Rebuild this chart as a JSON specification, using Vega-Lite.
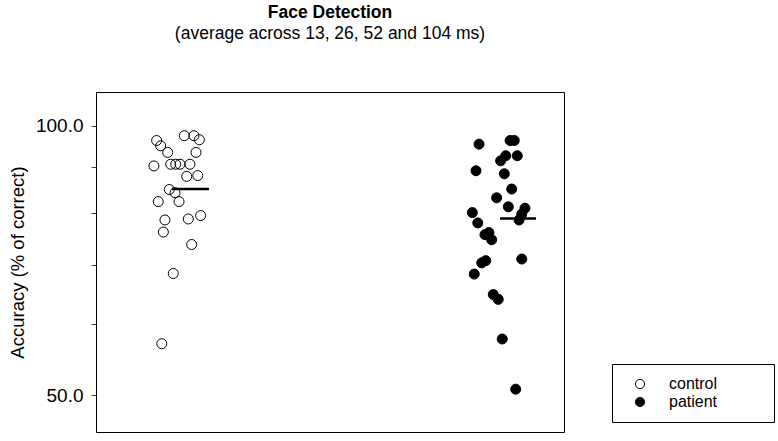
{
  "$schema": "https://vega.github.io/schema/vega-lite/v6.json",
  "width": 468,
  "height": 340,
  "autosize": {"type": "none"},
  "padding": {"left": 96, "top": 92, "right": 214, "bottom": 9},
  "background": "white",
  "config": {"view": {"stroke": "black", "strokeWidth": 1}, "font": "Liberation Sans"},
  "title": {
    "text": "Face Detection",
    "subtitle": "(average across 13, 26, 52 and 104 ms)",
    "anchor": "middle",
    "frame": "group",
    "font": "Liberation Sans",
    "subtitleFont": "Liberation Sans",
    "fontSize": 17.5,
    "fontWeight": "bold",
    "color": "black",
    "subtitleFontSize": 17.5,
    "subtitleColor": "black",
    "subtitlePadding": 3.5,
    "offset": 50
  },
  "datasets": {
    "points": [
      {"group": "control", "pos": 0.867, "accuracy": 96.3},
      {"group": "control", "pos": 0.892, "accuracy": 95.0},
      {"group": "control", "pos": 0.936, "accuracy": 93.4},
      {"group": "control", "pos": 1.040, "accuracy": 97.5},
      {"group": "control", "pos": 1.100, "accuracy": 97.5},
      {"group": "control", "pos": 1.134, "accuracy": 96.5},
      {"group": "control", "pos": 1.113, "accuracy": 93.4},
      {"group": "control", "pos": 0.850, "accuracy": 90.2},
      {"group": "control", "pos": 0.955, "accuracy": 90.6},
      {"group": "control", "pos": 0.986, "accuracy": 90.6},
      {"group": "control", "pos": 1.013, "accuracy": 90.6},
      {"group": "control", "pos": 1.075, "accuracy": 90.6},
      {"group": "control", "pos": 1.055, "accuracy": 87.8},
      {"group": "control", "pos": 1.124, "accuracy": 88.0},
      {"group": "control", "pos": 0.946, "accuracy": 84.9},
      {"group": "control", "pos": 0.982, "accuracy": 84.2},
      {"group": "control", "pos": 0.877, "accuracy": 82.3},
      {"group": "control", "pos": 1.007, "accuracy": 82.3},
      {"group": "control", "pos": 0.919, "accuracy": 78.5},
      {"group": "control", "pos": 1.065, "accuracy": 78.7},
      {"group": "control", "pos": 1.142, "accuracy": 79.4},
      {"group": "control", "pos": 0.909, "accuracy": 76.1},
      {"group": "control", "pos": 1.086, "accuracy": 73.7},
      {"group": "control", "pos": 0.971, "accuracy": 68.4},
      {"group": "control", "pos": 0.899, "accuracy": 57.1},
      {"group": "patient", "pos": 2.882, "accuracy": 95.4},
      {"group": "patient", "pos": 3.076, "accuracy": 96.3},
      {"group": "patient", "pos": 3.102, "accuracy": 96.3},
      {"group": "patient", "pos": 3.049, "accuracy": 92.6},
      {"group": "patient", "pos": 3.017, "accuracy": 91.4},
      {"group": "patient", "pos": 3.121, "accuracy": 92.6},
      {"group": "patient", "pos": 2.863, "accuracy": 89.1},
      {"group": "patient", "pos": 3.040, "accuracy": 88.4},
      {"group": "patient", "pos": 3.086, "accuracy": 85.0},
      {"group": "patient", "pos": 2.992, "accuracy": 83.1},
      {"group": "patient", "pos": 3.065, "accuracy": 81.2},
      {"group": "patient", "pos": 3.169, "accuracy": 80.9},
      {"group": "patient", "pos": 3.149, "accuracy": 79.7},
      {"group": "patient", "pos": 3.132, "accuracy": 78.5},
      {"group": "patient", "pos": 2.840, "accuracy": 80.0},
      {"group": "patient", "pos": 2.874, "accuracy": 77.9},
      {"group": "patient", "pos": 2.919, "accuracy": 75.6},
      {"group": "patient", "pos": 2.944, "accuracy": 76.0},
      {"group": "patient", "pos": 2.961, "accuracy": 74.6},
      {"group": "patient", "pos": 3.149, "accuracy": 71.0},
      {"group": "patient", "pos": 2.899, "accuracy": 70.3},
      {"group": "patient", "pos": 2.924, "accuracy": 70.7},
      {"group": "patient", "pos": 2.852, "accuracy": 68.3},
      {"group": "patient", "pos": 2.971, "accuracy": 64.8},
      {"group": "patient", "pos": 3.002, "accuracy": 64.0},
      {"group": "patient", "pos": 3.027, "accuracy": 57.8},
      {"group": "patient", "pos": 3.111, "accuracy": 50.8}
    ],
    "means": [
      {"group": "control", "x1": 0.963, "x2": 1.194, "mean": 85.0},
      {"group": "patient", "x1": 3.013, "x2": 3.238, "mean": 78.8}
    ]
  },
  "layer": [
    {
      "data": {"name": "points"},
      "mark": {"type": "point", "shape": "circle", "filled": true, "size": 100, "strokeWidth": 1, "opacity": 1},
      "encoding": {
        "x": {"field": "pos", "type": "quantitative", "scale": {"domain": [0.488, 3.413], "nice": false, "zero": false}, "axis": null},
        "y": {
          "field": "accuracy",
          "type": "quantitative",
          "scale": {"type": "log", "domain": [45.5, 109.1], "nice": false, "zero": false},
          "axis": {
            "values": [50, 60, 70, 80, 90, 100],
            "labelExpr": "datum.value == 50 || datum.value == 100 ? format(datum.value, '.1f') : ''",
            "title": "Accuracy (% of correct)",
            "titleFont": "Liberation Sans",
            "titleFontSize": 18.5,
            "titleFontWeight": "normal",
            "titleColor": "black",
            "titlePadding": 8,
            "labelFont": "Liberation Sans",
            "labelFontSize": 19,
            "labelColor": "black",
            "labelPadding": 8,
            "tickColor": "#444",
            "tickSize": 5,
            "domain": false,
            "grid": false,
            "encode": {
              "ticks": {
                "update": {
                  "x2": {"signal": "(datum.value == 50 || datum.value == 100) ? -5 : -3"}
                }
              }
            }
          }
        },
        "fill": {
          "field": "group",
          "type": "nominal",
          "scale": {"domain": ["control", "patient"], "range": ["transparent", "black"]},
          "legend": {
            "title": null,
            "orient": "none",
            "legendX": 516,
            "legendY": 272,
            "strokeColor": "black",
            "fillColor": "white",
            "padding": 12,
            "cornerRadius": 0,
            "symbolType": "circle",
            "symbolSize": 85,
            "symbolStrokeColor": "black",
            "symbolStrokeWidth": 1,
            "symbolOffset": 8,
            "labelOffset": 21,
            "labelFont": "Liberation Sans",
            "labelFontSize": 16,
            "labelColor": "black",
            "rowPadding": 2,
            "labelExpr": "datum.label + '\u00a0\u00a0\u00a0\u00a0\u00a0\u00a0\u00a0\u00a0\u00a0\u00a0\u200b'"
          }
        },
        "stroke": {"value": "black"}
      }
    },
    {
      "data": {"name": "means"},
      "mark": {"type": "rule", "strokeWidth": 2.5, "color": "black"},
      "encoding": {
        "x": {"field": "x1", "type": "quantitative"},
        "x2": {"field": "x2"},
        "y": {"field": "mean", "type": "quantitative"}
      }
    }
  ]
}
